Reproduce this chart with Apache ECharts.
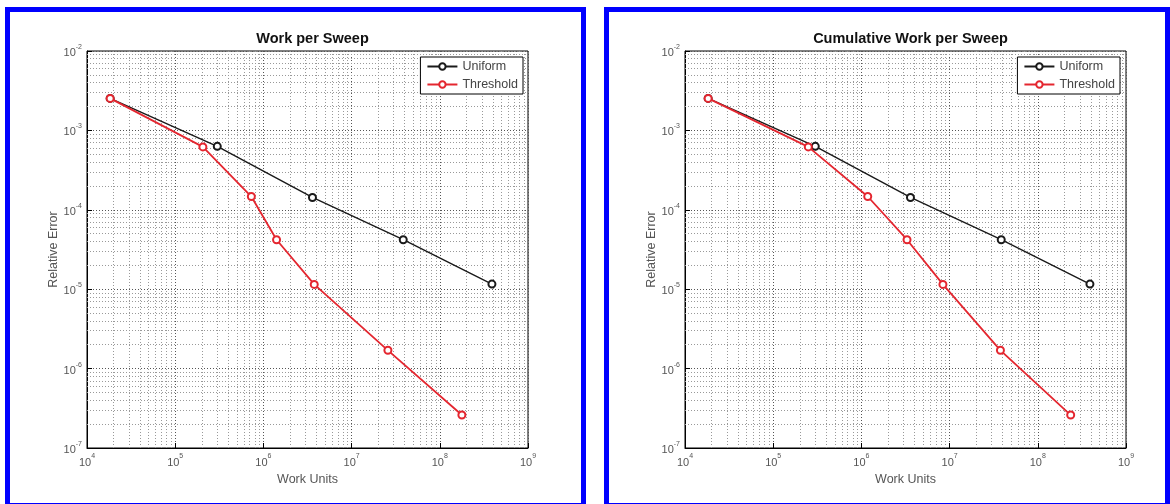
<!DOCTYPE html>
<html>
<head>
<meta charset="utf-8">
<script src="https://cdn.jsdelivr.net/npm/echarts@6/dist/echarts.min.js"></script>
<style>
  html, body { margin: 0; padding: 0; background: #fff; }
  #chart { width: 1170px; height: 504px; }
</style>
</head>
<body>
<div id="chart"></div>
<script>
// ---- data ----
const chartTitles = ['Work per Sweep', 'Cumulative Work per Sweep'];
const seriesNames = ['Uniform', 'Threshold'];
const xAxisTitle = 'Work Units';
const yAxisTitle = 'Relative Error';

const uniformWork  = [1.83e4, 3.0e5, 3.6e6, 3.85e7, 3.9e8];
const uniformError = [2.53e-3, 6.3e-4, 1.43e-4, 4.2e-5, 1.16e-5];

const thresholdWorkPerSweep  = [1.83e4, 2.06e5, 7.3e5, 1.41e6, 3.77e6, 2.58e7, 1.78e8];
const thresholdWorkCumulative = [1.83e4, 2.5e5, 1.18e6, 3.29e6, 8.4e6, 3.77e7, 2.36e8];
const thresholdError = [2.53e-3, 6.2e-4, 1.47e-4, 4.2e-5, 1.15e-5, 1.7e-6, 2.6e-7];

const xExponents = [4, 5, 6, 7, 8, 9];
const yExponents = [-7, -6, -5, -4, -3, -2];

// ---- helpers ----
function pairs(xs, ys) { return xs.map((x, i) => [x, ys[i]]); }
function minorValues(exps) {
  const out = [];
  for (let i = 0; i < exps.length - 1; i++) {
    for (let m = 2; m <= 9; m++) out.push(m * Math.pow(10, exps[i]));
  }
  return out;
}
const xMinor = minorValues(xExponents);
const yMinor = minorValues(yExponents);
const xMin = Math.pow(10, xExponents[0]), xMax = Math.pow(10, xExponents[xExponents.length - 1]);
const yMin = Math.pow(10, yExponents[0]), yMax = Math.pow(10, yExponents[yExponents.length - 1]);

const FONT = 'Liberation Sans, Arial, sans-serif';
const RED = '#e4262f';
const BLACK = '#1a1a1a';

function powLabel(v) {
  const e = Math.round(Math.log10(v));
  return '{b|10}{s|' + e + '}';
}
const labelRich = {
  b: { fontSize: 11, color: '#555', fontFamily: FONT, lineHeight: 15, verticalAlign: 'bottom' },
  s: { fontSize: 7, color: '#555', fontFamily: FONT, lineHeight: 15, verticalAlign: 'top' }
};

const gridLefts = [87, 685];
const PLOT_W = 441, PLOT_TOP = 51, PLOT_H = 397;

const grids = [], xAxes = [], yAxes = [], series = [], titles = [], legends = [];

const minorLines = xMinor.map(v => [{ coord: [v, yMin] }, { coord: [v, yMax] }])
  .concat(yMinor.map(v => [{ coord: [xMin, v] }, { coord: [xMax, v] }]));

[thresholdWorkPerSweep, thresholdWorkCumulative].forEach((thrWork, k) => {
  grids.push({
    left: gridLefts[k], top: PLOT_TOP, width: PLOT_W, height: PLOT_H,
    show: true, borderColor: '#000', borderWidth: 1, backgroundColor: '#fff'
  });
  xAxes.push({
    type: 'log', logBase: 10, gridIndex: k, min: xMin, max: xMax,
    name: xAxisTitle, nameLocation: 'middle', nameGap: 25,
    nameTextStyle: { color: '#555', fontSize: 12.5, fontFamily: FONT },
    axisLine: { lineStyle: { color: '#000', width: 1 } },
    axisTick: { inside: true, length: 5, lineStyle: { color: '#000' } },
    axisLabel: { formatter: powLabel, rich: labelRich, margin: 5 },
    splitLine: { show: true, lineStyle: { type: [1, 2], color: '#555', width: 1 } }
  });
  yAxes.push({
    type: 'log', logBase: 10, gridIndex: k, min: yMin, max: yMax,
    name: yAxisTitle, nameLocation: 'middle', nameGap: 25,
    nameTextStyle: { color: '#555', fontSize: 12.5, fontFamily: FONT },
    axisLine: { lineStyle: { color: '#000', width: 1 } },
    axisTick: { inside: true, length: 5, lineStyle: { color: '#000' } },
    axisLabel: { formatter: powLabel, rich: labelRich, margin: 5 },
    splitLine: { show: true, lineStyle: { type: [1, 2], color: '#555', width: 1 } }
  });
  // minor grid lines (log minor positions) via markLine on a hidden helper series
  series.push({
    type: 'line', xAxisIndex: k, yAxisIndex: k, name: '_grid' + k,
    data: [[uniformWork[0], uniformError[0]]],
    symbol: 'none', lineStyle: { opacity: 0 }, silent: true, z: 1,
    markLine: {
      z: 1,
      silent: true, symbol: 'none', animation: false,
      label: { show: false },
      lineStyle: { type: [1, 2], color: '#999', width: 1 },
      emphasis: { disabled: true },
      data: minorLines
    }
  });
  series.push({
    type: 'line', name: seriesNames[0], xAxisIndex: k, yAxisIndex: k, z: 3,
    data: pairs(uniformWork, uniformError),
    symbol: 'emptyCircle', symbolSize: 7,
    itemStyle: { color: BLACK, borderWidth: 1.5 },
    lineStyle: { color: BLACK, width: 1.4 },
    animation: false
  });
  series.push({
    type: 'line', name: seriesNames[1], xAxisIndex: k, yAxisIndex: k, z: 4,
    data: pairs(thrWork, thresholdError),
    symbol: 'emptyCircle', symbolSize: 7,
    itemStyle: { color: RED, borderWidth: 1.5 },
    lineStyle: { color: RED, width: 1.8 },
    animation: false
  });
  titles.push({
    text: chartTitles[k],
    left: gridLefts[k] + PLOT_W / 2, textAlign: 'center', top: 26,
    textStyle: { fontFamily: FONT, fontSize: 14.5, fontWeight: 'bold', color: '#111' }
  });
  legends.push({
    z: 20,
    data: seriesNames,
    orient: 'vertical',
    right: k === 0 ? 647 : 50, top: 57,
    backgroundColor: '#fff', borderColor: '#000', borderWidth: 1,
    padding: [3, 5, 3, 6], itemGap: 5, itemWidth: 30, itemHeight: 8,
    textStyle: { fontFamily: FONT, fontSize: 12.5, color: '#444' },
    selectedMode: false
  });
});

const chart = echarts.init(document.getElementById('chart'), null, { renderer: 'canvas' });
chart.setOption({
  animation: false,
  backgroundColor: '#fff',
  title: titles,
  legend: legends,
  grid: grids,
  xAxis: xAxes,
  yAxis: yAxes,
  series: series,
  graphic: [
    { type: 'rect', silent: true, z: 100, shape: { x: 7.5, y: 9.5, width: 576, height: 496 },
      style: { fill: 'none', stroke: '#0000ff', lineWidth: 5 } },
    { type: 'rect', silent: true, z: 100, shape: { x: 606.5, y: 9.5, width: 561, height: 496 },
      style: { fill: 'none', stroke: '#0000ff', lineWidth: 5 } }
  ]
});
</script>
</body>
</html>
